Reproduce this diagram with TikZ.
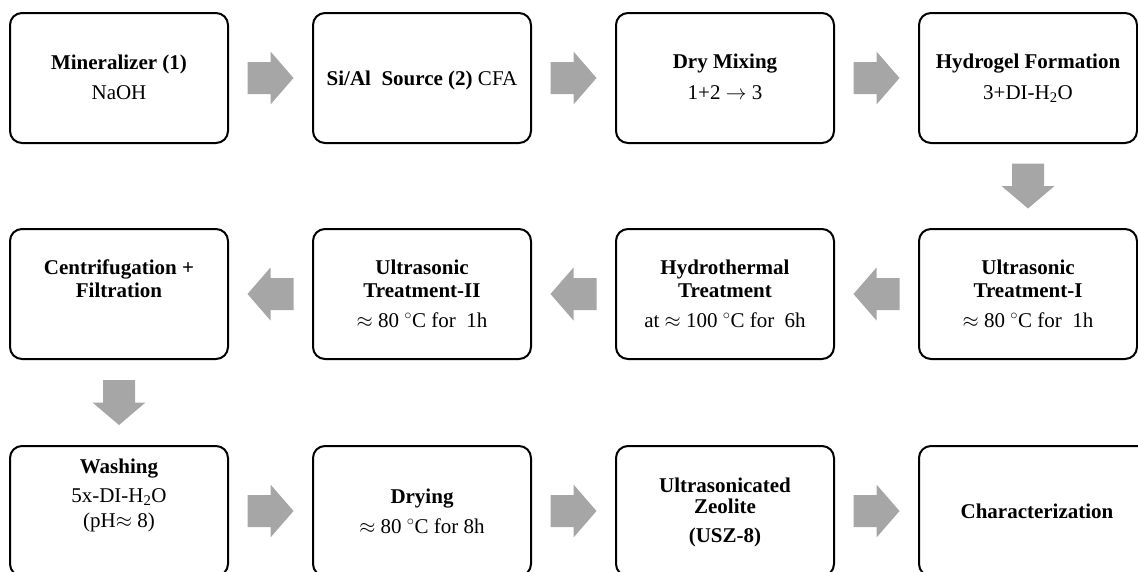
\documentclass[tikz,border=0pt]{standalone}
\usepackage{fontspec}
\setmainfont{Liberation Serif}
\usetikzlibrary{calc}
\definecolor{arrgray}{RGB}{166,166,166}
\tikzset{
  stepbox/.style={draw=black, line width=2pt, rounded corners=12pt, minimum width=218pt, minimum height=130pt, inner sep=0pt, fill=white},
  lbl/.style={anchor=base, inner sep=0pt, font=\fontsize{21}{25}\selectfont},
  blk/.style={fill=arrgray, draw=none},
}
\newcommand\arrR[1]{\fill[blk] ($(#1)+(-23,-16)$) -- ++(23,0) -- ++(0,-10.5) -- ++(23,26.5) -- ++(-23,26.5) -- ++(0,-10.5) -- ++(-23,0) -- cycle;}
\newcommand\arrL[1]{\fill[blk] ($(#1)+(23,-16)$) -- ++(-23,0) -- ++(0,-10.5) -- ++(-23,26.5) -- ++(23,26.5) -- ++(0,-10.5) -- ++(23,0) -- cycle;}
\newcommand\arrD[1]{\fill[blk] ($(#1)+(-16,-22.5)$) -- ++(0,22.5) -- ++(-10.5,0) -- ++(26.5,22.5) -- ++(26.5,-22.5) -- ++(-10.5,0) -- ++(0,-22.5) -- cycle;}
\newcommand\dgc{$^{\circ}$C}
\begin{document}
\begin{tikzpicture}[x=1pt,y=-1pt]
\useasboundingbox (0,0) rectangle (1138,571);
\clip (0,0) rectangle (1138,571);
% boxes
\node[stepbox] (mineral) at (119,78) {};
\node[stepbox] (source) at (422,78) {};
\node[stepbox] (mixing) at (725,78) {};
\node[stepbox] (hydrogel) at (1028,78) {};
\node[stepbox] (centri) at (119,294) {};
\node[stepbox] (us2) at (422,294) {};
\node[stepbox] (hydro) at (725,294) {};
\node[stepbox] (us1) at (1028,294) {};
\node[stepbox] (wash) at (119,511) {};
\node[stepbox] (dry) at (422,511) {};
\node[stepbox] (usz) at (725,511) {};
\node[stepbox, minimum width=236pt] (charac) at (1037,511) {};
% texts row 1
\node[lbl] (mineral-a) at ($(mineral.center)+(0,-9)$) {\bfseries Mineralizer (1)};
\node[lbl] (mineral-b) at ($(mineral.center)+(0,21)$) {NaOH};
\node[lbl] (source-a) at ($(source.center)+(0,7)$) {\textbf{Si/Al\ \ Source (2)} CFA};
\node[lbl] (mixing-a) at ($(mixing.center)+(0,-10)$) {\bfseries Dry Mixing};
\node[lbl] (mixing-b) at ($(mixing.center)+(0,21)$) {1+2 $\rightarrow$ 3};
\node[lbl] (hydrogel-a) at ($(hydrogel.center)+(0,-10)$) {\bfseries Hydrogel Formation};
\node[lbl] (hydrogel-b) at ($(hydrogel.center)+(0,21)$) {3+DI-H\textsubscript{2}O};
% texts row 2
\node[lbl] (centri-a) at ($(centri.center)+(0,-20)$) {\bfseries Centrifugation +};
\node[lbl] (centri-b) at ($(centri.center)+(0,3)$) {\bfseries Filtration};
\node[lbl] (us2-a) at ($(us2.center)+(0,-20)$) {\bfseries Ultrasonic};
\node[lbl] (us2-b) at ($(us2.center)+(0,3)$) {\bfseries Treatment-II};
\node[lbl] (us2-c) at ($(us2.center)+(0,33)$) {$\approx$ 80 \dgc{} for\ \ 1h};
\node[lbl] (hydro-a) at ($(hydro.center)+(0,-20)$) {\bfseries Hydrothermal};
\node[lbl] (hydro-b) at ($(hydro.center)+(0,3)$) {\bfseries Treatment};
\node[lbl] (hydro-c) at ($(hydro.center)+(0,33)$) {at $\approx$ 100 \dgc{} for\ \ 6h};
\node[lbl] (us1-a) at ($(us1.center)+(0,-20)$) {\bfseries Ultrasonic};
\node[lbl] (us1-b) at ($(us1.center)+(0,3)$) {\bfseries Treatment-I};
\node[lbl] (us1-c) at ($(us1.center)+(0,33)$) {$\approx$ 80 \dgc{} for\ \ 1h};
% texts row 3
\node[lbl] (wash-a) at ($(wash.center)+(0,-38)$) {\bfseries Washing};
\node[lbl] (wash-b) at ($(wash.center)+(0,-9)$) {5x-DI-H\textsubscript{2}O};
\node[lbl] (wash-c) at ($(wash.center)+(0,16)$) {(pH$\approx$ 8)};
\node[lbl] (dry-a) at ($(dry.center)+(0,-8)$) {\bfseries Drying};
\node[lbl] (dry-b) at ($(dry.center)+(0,22)$) {$\approx$ 80 \dgc{} for 8h};
\node[lbl] (usz-a) at ($(usz.center)+(0,-19)$) {\bfseries Ultrasonicated};
\node[lbl] (usz-b) at ($(usz.center)+(0,2)$) {\bfseries Zeolite};
\node[lbl] (usz-c) at ($(usz.center)+(0,31)$) {\bfseries (USZ-8)};
\node[lbl] (charac-a) at ($(charac.center)+(0,7)$) {\bfseries Characterization};
% connectors (block arrows)
\coordinate (a1) at ($(mineral.east)!0.5!(source.west)$);
\coordinate (a2) at ($(source.east)!0.5!(mixing.west)$);
\coordinate (a3) at ($(mixing.east)!0.5!(hydrogel.west)$);
\coordinate (a4) at ($(hydrogel.south)!0.5!(us1.north)$);
\coordinate (a5) at ($(us1.west)!0.5!(hydro.east)$);
\coordinate (a6) at ($(hydro.west)!0.5!(us2.east)$);
\coordinate (a7) at ($(us2.west)!0.5!(centri.east)$);
\coordinate (a8) at ($(centri.south)!0.5!(wash.north)$);
\coordinate (a9) at ($(wash.east)!0.5!(dry.west)$);
\coordinate (a10) at ($(dry.east)!0.5!(usz.west)$);
\coordinate (a11) at ($(usz.east)!0.5!(charac.west)$);
\arrR{a1}
\arrR{a2}
\arrR{a3}
\arrD{a4}
\arrL{a5}
\arrL{a6}
\arrL{a7}
\arrD{a8}
\arrR{a9}
\arrR{a10}
\arrR{a11}
\end{tikzpicture}
\end{document}
